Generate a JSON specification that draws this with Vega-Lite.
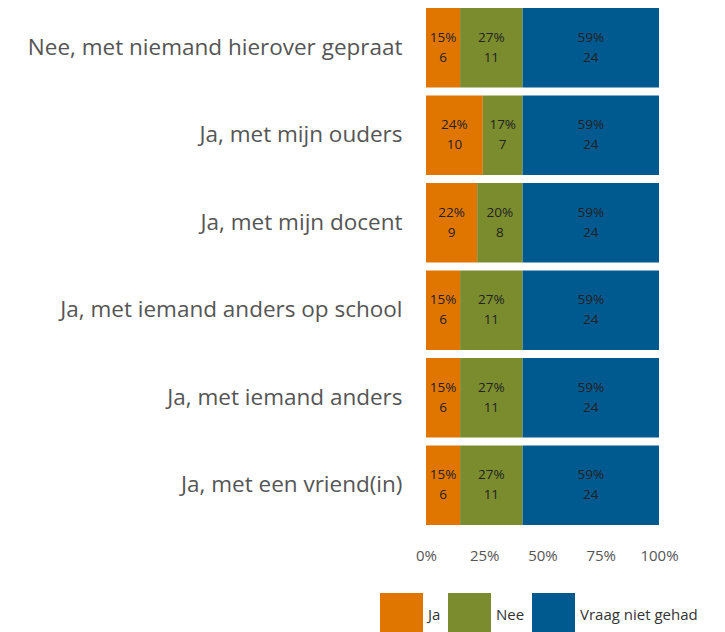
{
  "$schema": "https://vega.github.io/schema/vega-lite/v6.json",
  "width": 233,
  "height": 525,
  "autosize": "none",
  "padding": {"left": 426, "top": 4, "right": 66, "bottom": 103},
  "config": {"view": {"stroke": null}, "font": "Open Sans"},
  "data": {
    "values": [
      {"vraag": "Nee, met niemand hierover gepraat", "antwoord": "Ja", "n": 6},
      {"vraag": "Nee, met niemand hierover gepraat", "antwoord": "Nee", "n": 11},
      {"vraag": "Nee, met niemand hierover gepraat", "antwoord": "Vraag niet gehad", "n": 24},
      {"vraag": "Ja, met mijn ouders", "antwoord": "Ja", "n": 10},
      {"vraag": "Ja, met mijn ouders", "antwoord": "Nee", "n": 7},
      {"vraag": "Ja, met mijn ouders", "antwoord": "Vraag niet gehad", "n": 24},
      {"vraag": "Ja, met mijn docent", "antwoord": "Ja", "n": 9},
      {"vraag": "Ja, met mijn docent", "antwoord": "Nee", "n": 8},
      {"vraag": "Ja, met mijn docent", "antwoord": "Vraag niet gehad", "n": 24},
      {"vraag": "Ja, met iemand anders op school", "antwoord": "Ja", "n": 6},
      {"vraag": "Ja, met iemand anders op school", "antwoord": "Nee", "n": 11},
      {"vraag": "Ja, met iemand anders op school", "antwoord": "Vraag niet gehad", "n": 24},
      {"vraag": "Ja, met iemand anders", "antwoord": "Ja", "n": 6},
      {"vraag": "Ja, met iemand anders", "antwoord": "Nee", "n": 11},
      {"vraag": "Ja, met iemand anders", "antwoord": "Vraag niet gehad", "n": 24},
      {"vraag": "Ja, met een vriend(in)", "antwoord": "Ja", "n": 6},
      {"vraag": "Ja, met een vriend(in)", "antwoord": "Nee", "n": 11},
      {"vraag": "Ja, met een vriend(in)", "antwoord": "Vraag niet gehad", "n": 24}
    ]
  },
  "transform": [
    {"stack": "n", "groupby": ["vraag"], "sort": [{"field": "antwoord"}], "offset": "normalize", "as": ["x0", "x1"]},
    {"calculate": "(datum.x0 + datum.x1) / 2", "as": "mid"},
    {"calculate": "datum.x1 - datum.x0", "as": "frac"}
  ],
  "encoding": {
    "y": {
      "field": "vraag",
      "type": "nominal",
      "sort": null,
      "scale": {"paddingInner": 0.09, "paddingOuter": 0.045},
      "axis": {"title": null, "ticks": false, "domain": false, "labelFontSize": 22.5, "labelColor": "#555555", "labelPadding": 24, "labelLimit": 420}
    }
  },
  "layer": [
    {
      "mark": {"type": "bar"},
      "encoding": {
        "x": {
          "field": "x0",
          "type": "quantitative",
          "scale": {"domain": [0, 1]},
          "axis": {"title": null, "format": ".0%", "values": [0, 0.25, 0.5, 0.75, 1], "ticks": false, "domain": false, "grid": false, "labelFlush": false, "labelFontSize": 15, "labelColor": "#555555", "labelPadding": 19}
        },
        "x2": {"field": "x1"},
        "color": {
          "field": "antwoord",
          "type": "nominal",
          "scale": {"domain": ["Ja", "Nee", "Vraag niet gehad"], "range": ["#E07600", "#7A8C2D", "#00598F"]},
          "legend": {
            "title": null,
            "orient": "none",
            "direction": "horizontal",
            "legendX": -46,
            "legendY": 589,
            "symbolType": "square",
            "symbolSize": 1849,
            "symbolStrokeWidth": 0,
            "symbolOpacity": 1,
            "labelFontSize": 15,
            "labelColor": "#333333",
            "labelOffset": 5,
            "columnPadding": 7
          }
        }
      }
    },
    {
      "mark": {"type": "text", "dy": -10, "fontSize": 13.5, "color": "#222222"},
      "encoding": {
        "x": {"field": "mid", "type": "quantitative"},
        "text": {"field": "frac", "type": "quantitative", "format": ".0%"}
      }
    },
    {
      "mark": {"type": "text", "dy": 10, "fontSize": 13.5, "color": "#222222"},
      "encoding": {
        "x": {"field": "mid", "type": "quantitative"},
        "text": {"field": "n", "type": "quantitative"}
      }
    }
  ]
}
